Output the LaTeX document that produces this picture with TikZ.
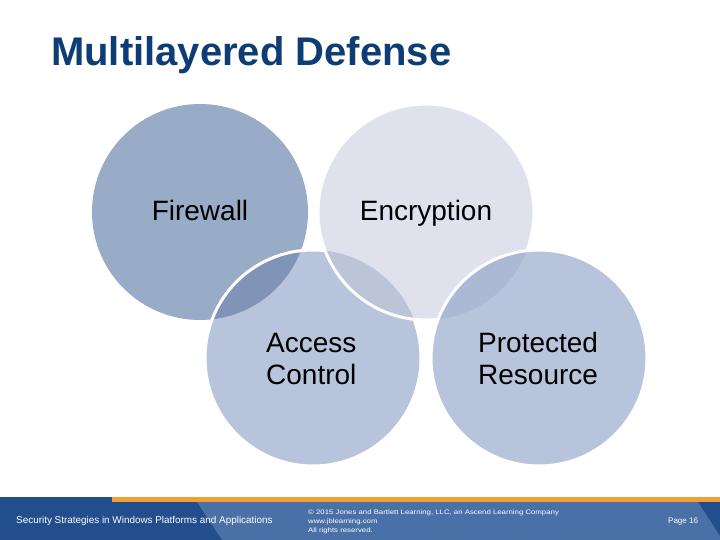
\documentclass[tikz,border=0pt]{standalone}
\usepackage{fontspec}
\setmainfont{Liberation Sans}
\definecolor{titleblue}{HTML}{0E3C74}
\definecolor{fwcol}{HTML}{98ABC7}
\definecolor{encol}{HTML}{DFE2EC}
\definecolor{accol}{HTML}{B8C4DC}
\definecolor{prcol}{HTML}{B8C4DC}
\definecolor{lensFA}{HTML}{8094B8}
\definecolor{lensEA}{HTML}{BCC5D7}
\definecolor{lensEP}{HTML}{ABB9D4}
\definecolor{footdark}{HTML}{234E8D}
\definecolor{footlight}{HTML}{4A70A8}
\definecolor{footorange}{HTML}{F0A030}
\tikzset{
  ring/.style={draw=white, line width=3pt},
  circlabel/.style={font=\fontsize{28}{32}\selectfont, text=black, align=left, inner sep=0pt},
  foottext/.style={text=white, inner sep=0pt, anchor=base west},
}
\begin{document}
\begin{tikzpicture}[x=1pt,y=-1pt]
\useasboundingbox (0,0) rectangle (720,540);
\fill[white] (0,0) rectangle (720,540);
% circles
\coordinate (cF) at (200,212);
\coordinate (cE) at (426,212);
\coordinate (cA) at (313,358);
\coordinate (cP) at (539,358);
\def\R{108}
% Firewall
\fill[fwcol] (cF) circle (\R);
% Access Control
\fill[accol] (cA) circle (\R);
\begin{scope}
  \clip (cF) circle (\R);
  \fill[lensFA] (cA) circle (\R);
\end{scope}
\draw[ring] (cA) circle (\R);
% Encryption
\fill[encol] (cE) circle (\R);
\begin{scope}
  \clip (cA) circle (\R);
  \fill[lensEA] (cE) circle (\R);
\end{scope}
\draw[ring] (cE) circle (\R);
% Protected Resource
\fill[prcol] (cP) circle (\R);
\begin{scope}
  \clip (cE) circle (\R);
  \fill[lensEP] (cP) circle (\R);
\end{scope}
\draw[ring] (cP) circle (\R);
% labels
\node[circlabel, anchor=base] (fw) at (200,221) {Firewall};
\node[circlabel, anchor=base] (en) at (426,221) {Encryption};
\node[circlabel, anchor=base west] (ac1) at (266,352) {Access};
\node[circlabel, anchor=base west] (ac2) at (266,384) {Control};
\node[circlabel, anchor=base west] (pr1) at (478,352) {Protected};
\node[circlabel, anchor=base west] (pr2) at (478,384) {Resource};
% title
\node[font=\bfseries\fontsize{40}{44}\selectfont, text=titleblue, anchor=base west, inner sep=0pt] (title) at (51,66) {Multilayered Defense};
% footer
\fill[footdark] (0,497) rectangle (720,540);
\fill[footlight] (197,502) -- (698,502) -- (720,536) -- (720,540) -- (222,540) -- cycle;
\fill[footorange] (112,497) rectangle (720,502);
\node[foottext, font=\fontsize{9.9}{11}\selectfont] (ft1) at (16,523) {Security Strategies in Windows Platforms and Applications};
\node[foottext, font=\fontsize{6.5}{7}\selectfont] (ft2) at (308,514) {\scalebox{1.2}[1]{© 2015 Jones and Bartlett Learning, LLC, an Ascend Learning Company}};
\node[foottext, font=\fontsize{6.5}{7}\selectfont] (ft3) at (308,523) {\scalebox{1.2}[1]{www.jblearning.com}};
\node[foottext, font=\fontsize{6.5}{7}\selectfont] (ft4) at (308,532) {\scalebox{1.2}[1]{All rights reserved.}};
\node[foottext, font=\fontsize{8}{9}\selectfont] (pg) at (668,523) {Page 16};
\end{tikzpicture}
\end{document}
